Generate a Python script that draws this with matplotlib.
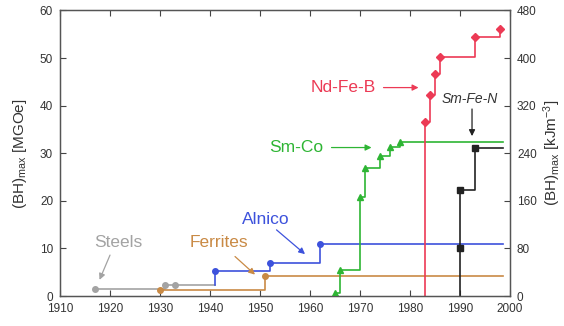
import matplotlib.pyplot as plt
import numpy as np

plt.rcParams['font.family'] = 'Liberation Sans'
plt.rcParams['mathtext.fontset'] = 'custom'
plt.rcParams['mathtext.rm'] = 'Liberation Sans'
plt.rcParams['mathtext.it'] = 'Liberation Sans:italic'

# data: year, (BH)max in MGOe
steels_yr = [1917, 1931, 1933]
steels_bh = [1.4, 2.4, 2.4]
ferrite_yr = [1930, 1951]
ferrite_bh = [1.3, 4.3]
alnico_yr = [1941, 1952, 1962]
alnico_bh = [5.3, 7.0, 10.9]
smco_yr = [1965, 1966, 1970, 1971, 1974, 1976, 1978]
smco_bh = [0.7, 5.5, 20.8, 26.9, 29.4, 31.4, 32.3]
ndfeb_yr = [1983, 1984, 1985, 1986, 1993, 1998]
ndfeb_bh = [36.5, 42.2, 46.7, 50.2, 54.5, 56.1]
smfen_yr = [1990, 1990, 1993]
smfen_bh = [10.0, 22.3, 31.0]

end_yr = 1998.5

c_steel = '#a3a3a3'
c_ferr = '#c98a45'
c_aln = '#3d52dc'
c_smco = '#2eb534'
c_nd = '#ec3a55'
c_smfen = '#222222'

fig = plt.figure(figsize=(5.64, 3.26), dpi=100)
ax = fig.add_axes([0.1064, 0.092, 0.7979, 0.8758])


def step_line(x, y, color, marker, start=None, end=None, ms=4):
    """draw a step line through the points, then the markers"""
    xs = list(x)
    ys = list(y)
    if start is not None:
        xs = [x[0]] + xs
        ys = [start] + ys
    if end is not None:
        xs = xs + [end]
        ys = ys + [y[-1]]
    ax.plot(xs, ys, drawstyle='steps-post', color=color, lw=1.2, zorder=2)
    ax.plot(x, y, ls='none', marker=marker, color=color, ms=ms, zorder=3)


step_line(steels_yr, steels_bh, c_steel, 'o', end=alnico_yr[0])
step_line(ferrite_yr, ferrite_bh, c_ferr, 'o', end=end_yr)
step_line(alnico_yr, alnico_bh, c_aln, 'o', start=steels_bh[-1], end=end_yr)
step_line(smco_yr, smco_bh, c_smco, '^', end=end_yr, ms=5)
step_line(ndfeb_yr, ndfeb_bh, c_nd, 'D', start=0, ms=4.5)
step_line(smfen_yr, smfen_bh, c_smfen, 's', start=0, end=end_yr, ms=4)


# labels and their arrows
def label(text, pos, color, style='normal', size=12.5):
    ax.text(pos[0], pos[1], text, color=color, fontsize=size, style=style,
            ha='center', va='center')


def arrow(start, stop, color):
    ax.annotate('', xy=stop, xytext=start,
                arrowprops=dict(arrowstyle='-|>', color=color, lw=0.9,
                                mutation_scale=9, shrinkA=0, shrinkB=0))


label('Steels', (1921.6, 11.2), c_steel)
arrow((1920.0, 8.6), (1917.9, 3.4), c_steel)
label('Ferrites', (1941.7, 11.2), c_ferr)
arrow((1945.0, 8.3), (1949.0, 4.5), c_ferr)
label('Alnico', (1951.1, 16.1), c_aln)
arrow((1953.3, 13.9), (1959.0, 8.8), c_aln)
label('Sm-Co', (1957.3, 31.2), c_smco)
arrow((1964.3, 31.2), (1972.3, 31.2), c_smco)
label('Nd-Fe-B', (1966.7, 43.8), c_nd)
arrow((1974.7, 43.8), (1981.7, 43.8), c_nd)
label('Sm-Fe-N', (1992.0, 41.3), '#333333', style='italic', size=10)
arrow((1992.4, 39.3), (1992.4, 33.6), c_smfen)

ax.set_xlim(1910, 2000)
ax.set_ylim(0, 60)
ax.set_xticks(np.arange(1910, 2001, 10))
ax.set_yticks(np.arange(0, 61, 10))
ax.tick_params(direction='in', top=True, length=4, labelsize=8.5,
               colors='#444444', labelcolor='#333333', pad=5)
ax.set_ylabel('(BH)$_\\mathrm{max}$ [MGOe]', fontsize=11, color='#333333',
              labelpad=8)
for s in ax.spines.values():
    s.set_color('#555555')
    s.set_linewidth(1.0)

ax2 = ax.twinx()
ax2.set_ylim(0, 480)
ax2.set_yticks(np.arange(0, 481, 80))
ax2.tick_params(direction='in', length=4, labelsize=8.5, colors='#444444',
                labelcolor='#333333', pad=5)
ax2.set_ylabel('(BH)$_\\mathrm{max}$ [kJm$^{-3}$]', fontsize=11,
               color='#333333', labelpad=3)
for s in ax2.spines.values():
    s.set_color('#555555')

fig.savefig('out.png', dpi=100)
